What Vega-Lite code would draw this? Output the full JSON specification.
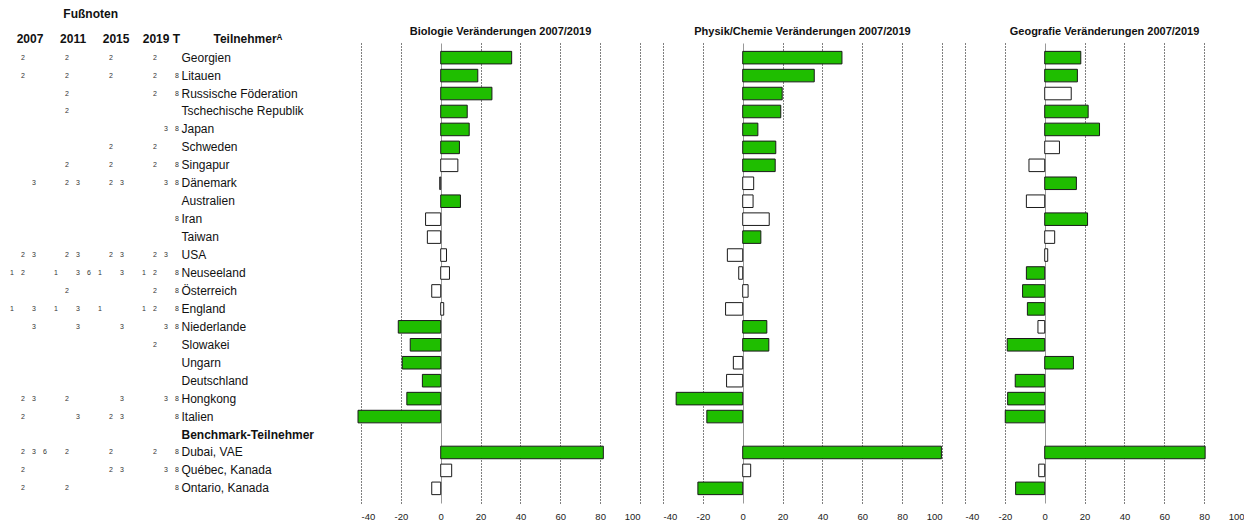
{
  "$schema": "https://vega.github.io/schema/vega-lite/v6.json",
  "background": "white",
  "padding": {"left": 0, "top": 8, "right": 0, "bottom": 0},
  "spacing": 23,
  "bounds": "flush",
  "config": {"view": {"stroke": null}, "font": "Liberation Sans"},
  "datasets": {
    "bars": [
      {"c": "Georgien", "f": "Bio", "v": 35.6, "s": "sig"},
      {"c": "Litauen", "f": "Bio", "v": 18.6, "s": "sig"},
      {"c": "Russische Föderation", "f": "Bio", "v": 25.7, "s": "sig"},
      {"c": "Tschechische Republik", "f": "Bio", "v": 13.3, "s": "sig"},
      {"c": "Japan", "f": "Bio", "v": 14.3, "s": "sig"},
      {"c": "Schweden", "f": "Bio", "v": 9.4, "s": "sig"},
      {"c": "Singapur", "f": "Bio", "v": 8.6, "s": "ns"},
      {"c": "Dänemark", "f": "Bio", "v": -0.5, "s": "ns"},
      {"c": "Australien", "f": "Bio", "v": 9.9, "s": "sig"},
      {"c": "Iran", "f": "Bio", "v": -7.6, "s": "ns"},
      {"c": "Taiwan", "f": "Bio", "v": -6.7, "s": "ns"},
      {"c": "USA", "f": "Bio", "v": 2.9, "s": "ns"},
      {"c": "Neuseeland", "f": "Bio", "v": 4.4, "s": "ns"},
      {"c": "Österreich", "f": "Bio", "v": -4.5, "s": "ns"},
      {"c": "England", "f": "Bio", "v": 1.5, "s": "ns"},
      {"c": "Niederlande", "f": "Bio", "v": -21.3, "s": "sig"},
      {"c": "Slowakei", "f": "Bio", "v": -15.3, "s": "sig"},
      {"c": "Ungarn", "f": "Bio", "v": -19.3, "s": "sig"},
      {"c": "Deutschland", "f": "Bio", "v": -9.2, "s": "sig"},
      {"c": "Hongkong", "f": "Bio", "v": -17.0, "s": "sig"},
      {"c": "Italien", "f": "Bio", "v": -41.5, "s": "sig"},
      {"c": "Dubai, VAE", "f": "Bio", "v": 81.6, "s": "sig"},
      {"c": "Québec, Kanada", "f": "Bio", "v": 5.5, "s": "ns"},
      {"c": "Ontario, Kanada", "f": "Bio", "v": -4.5, "s": "ns"},
      {"c": "Georgien", "f": "Phys", "v": 49.8, "s": "sig"},
      {"c": "Litauen", "f": "Phys", "v": 35.9, "s": "sig"},
      {"c": "Russische Föderation", "f": "Phys", "v": 19.8, "s": "sig"},
      {"c": "Tschechische Republik", "f": "Phys", "v": 19.1, "s": "sig"},
      {"c": "Japan", "f": "Phys", "v": 7.6, "s": "sig"},
      {"c": "Schweden", "f": "Phys", "v": 16.6, "s": "sig"},
      {"c": "Singapur", "f": "Phys", "v": 16.3, "s": "sig"},
      {"c": "Dänemark", "f": "Phys", "v": 5.5, "s": "ns"},
      {"c": "Australien", "f": "Phys", "v": 5.2, "s": "ns"},
      {"c": "Iran", "f": "Phys", "v": 13.3, "s": "ns"},
      {"c": "Taiwan", "f": "Phys", "v": 9.1, "s": "sig"},
      {"c": "USA", "f": "Phys", "v": -7.7, "s": "ns"},
      {"c": "Neuseeland", "f": "Phys", "v": -2.0, "s": "ns"},
      {"c": "Österreich", "f": "Phys", "v": 2.7, "s": "ns"},
      {"c": "England", "f": "Phys", "v": -8.6, "s": "ns"},
      {"c": "Niederlande", "f": "Phys", "v": 12.1, "s": "sig"},
      {"c": "Slowakei", "f": "Phys", "v": 13.1, "s": "sig"},
      {"c": "Ungarn", "f": "Phys", "v": -4.7, "s": "ns"},
      {"c": "Deutschland", "f": "Phys", "v": -8.1, "s": "ns"},
      {"c": "Hongkong", "f": "Phys", "v": -33.4, "s": "sig"},
      {"c": "Italien", "f": "Phys", "v": -18.0, "s": "sig"},
      {"c": "Dubai, VAE", "f": "Phys", "v": 99.7, "s": "sig"},
      {"c": "Québec, Kanada", "f": "Phys", "v": 4.0, "s": "ns"},
      {"c": "Ontario, Kanada", "f": "Phys", "v": -22.5, "s": "sig"},
      {"c": "Georgien", "f": "Geo", "v": 18.1, "s": "sig"},
      {"c": "Litauen", "f": "Geo", "v": 16.4, "s": "sig"},
      {"c": "Russische Föderation", "f": "Geo", "v": 13.3, "s": "ns"},
      {"c": "Tschechische Republik", "f": "Geo", "v": 21.8, "s": "sig"},
      {"c": "Japan", "f": "Geo", "v": 27.5, "s": "sig"},
      {"c": "Schweden", "f": "Geo", "v": 7.4, "s": "ns"},
      {"c": "Singapur", "f": "Geo", "v": -7.9, "s": "ns"},
      {"c": "Dänemark", "f": "Geo", "v": 15.9, "s": "sig"},
      {"c": "Australien", "f": "Geo", "v": -9.2, "s": "ns"},
      {"c": "Iran", "f": "Geo", "v": 21.5, "s": "sig"},
      {"c": "Taiwan", "f": "Geo", "v": 5.0, "s": "ns"},
      {"c": "USA", "f": "Geo", "v": 1.5, "s": "ns"},
      {"c": "Neuseeland", "f": "Geo", "v": -9.2, "s": "sig"},
      {"c": "Österreich", "f": "Geo", "v": -11.1, "s": "sig"},
      {"c": "England", "f": "Geo", "v": -8.7, "s": "sig"},
      {"c": "Niederlande", "f": "Geo", "v": -3.4, "s": "ns"},
      {"c": "Slowakei", "f": "Geo", "v": -18.8, "s": "sig"},
      {"c": "Ungarn", "f": "Geo", "v": 14.4, "s": "sig"},
      {"c": "Deutschland", "f": "Geo", "v": -14.8, "s": "sig"},
      {"c": "Hongkong", "f": "Geo", "v": -18.6, "s": "sig"},
      {"c": "Italien", "f": "Geo", "v": -19.8, "s": "sig"},
      {"c": "Dubai, VAE", "f": "Geo", "v": 80.5, "s": "sig"},
      {"c": "Québec, Kanada", "f": "Geo", "v": -3.0, "s": "ns"},
      {"c": "Ontario, Kanada", "f": "Geo", "v": -14.6, "s": "sig"}
    ],
    "notes": [
      {"c": "Georgien", "slot": "2007-2", "n": "2"},
      {"c": "Georgien", "slot": "2011-2", "n": "2"},
      {"c": "Georgien", "slot": "2015-2", "n": "2"},
      {"c": "Georgien", "slot": "2019-2", "n": "2"},
      {"c": "Litauen", "slot": "2007-2", "n": "2"},
      {"c": "Litauen", "slot": "2011-2", "n": "2"},
      {"c": "Litauen", "slot": "2015-2", "n": "2"},
      {"c": "Litauen", "slot": "2019-2", "n": "2"},
      {"c": "Litauen", "slot": "T", "n": "8"},
      {"c": "Russische Föderation", "slot": "2011-2", "n": "2"},
      {"c": "Russische Föderation", "slot": "2019-2", "n": "2"},
      {"c": "Russische Föderation", "slot": "T", "n": "8"},
      {"c": "Tschechische Republik", "slot": "2011-2", "n": "2"},
      {"c": "Japan", "slot": "2019-3", "n": "3"},
      {"c": "Japan", "slot": "T", "n": "8"},
      {"c": "Schweden", "slot": "2015-2", "n": "2"},
      {"c": "Schweden", "slot": "2019-2", "n": "2"},
      {"c": "Singapur", "slot": "2011-2", "n": "2"},
      {"c": "Singapur", "slot": "2015-2", "n": "2"},
      {"c": "Singapur", "slot": "2019-2", "n": "2"},
      {"c": "Singapur", "slot": "T", "n": "8"},
      {"c": "Dänemark", "slot": "2007-3", "n": "3"},
      {"c": "Dänemark", "slot": "2011-2", "n": "2"},
      {"c": "Dänemark", "slot": "2011-3", "n": "3"},
      {"c": "Dänemark", "slot": "2015-2", "n": "2"},
      {"c": "Dänemark", "slot": "2015-3", "n": "3"},
      {"c": "Dänemark", "slot": "2019-3", "n": "3"},
      {"c": "Dänemark", "slot": "T", "n": "8"},
      {"c": "Iran", "slot": "T", "n": "8"},
      {"c": "USA", "slot": "2007-2", "n": "2"},
      {"c": "USA", "slot": "2007-3", "n": "3"},
      {"c": "USA", "slot": "2011-2", "n": "2"},
      {"c": "USA", "slot": "2011-3", "n": "3"},
      {"c": "USA", "slot": "2015-2", "n": "2"},
      {"c": "USA", "slot": "2015-3", "n": "3"},
      {"c": "USA", "slot": "2019-2", "n": "2"},
      {"c": "USA", "slot": "2019-3", "n": "3"},
      {"c": "Neuseeland", "slot": "2007-1", "n": "1"},
      {"c": "Neuseeland", "slot": "2007-2", "n": "2"},
      {"c": "Neuseeland", "slot": "2011-1", "n": "1"},
      {"c": "Neuseeland", "slot": "2011-3", "n": "3"},
      {"c": "Neuseeland", "slot": "2011-6", "n": "6"},
      {"c": "Neuseeland", "slot": "2015-1", "n": "1"},
      {"c": "Neuseeland", "slot": "2015-3", "n": "3"},
      {"c": "Neuseeland", "slot": "2019-1", "n": "1"},
      {"c": "Neuseeland", "slot": "2019-2", "n": "2"},
      {"c": "Neuseeland", "slot": "T", "n": "8"},
      {"c": "Österreich", "slot": "2011-2", "n": "2"},
      {"c": "Österreich", "slot": "2019-2", "n": "2"},
      {"c": "Österreich", "slot": "T", "n": "8"},
      {"c": "England", "slot": "2007-1", "n": "1"},
      {"c": "England", "slot": "2007-3", "n": "3"},
      {"c": "England", "slot": "2011-1", "n": "1"},
      {"c": "England", "slot": "2011-3", "n": "3"},
      {"c": "England", "slot": "2015-1", "n": "1"},
      {"c": "England", "slot": "2019-1", "n": "1"},
      {"c": "England", "slot": "2019-2", "n": "2"},
      {"c": "England", "slot": "T", "n": "8"},
      {"c": "Niederlande", "slot": "2007-3", "n": "3"},
      {"c": "Niederlande", "slot": "2011-3", "n": "3"},
      {"c": "Niederlande", "slot": "2015-3", "n": "3"},
      {"c": "Niederlande", "slot": "2019-3", "n": "3"},
      {"c": "Niederlande", "slot": "T", "n": "8"},
      {"c": "Slowakei", "slot": "2019-2", "n": "2"},
      {"c": "Hongkong", "slot": "2007-2", "n": "2"},
      {"c": "Hongkong", "slot": "2007-3", "n": "3"},
      {"c": "Hongkong", "slot": "2011-2", "n": "2"},
      {"c": "Hongkong", "slot": "2015-3", "n": "3"},
      {"c": "Hongkong", "slot": "2019-3", "n": "3"},
      {"c": "Hongkong", "slot": "T", "n": "8"},
      {"c": "Italien", "slot": "2007-2", "n": "2"},
      {"c": "Italien", "slot": "2011-3", "n": "3"},
      {"c": "Italien", "slot": "2015-2", "n": "2"},
      {"c": "Italien", "slot": "2015-3", "n": "3"},
      {"c": "Italien", "slot": "T", "n": "8"},
      {"c": "Dubai, VAE", "slot": "2007-2", "n": "2"},
      {"c": "Dubai, VAE", "slot": "2007-3", "n": "3"},
      {"c": "Dubai, VAE", "slot": "2007-6", "n": "6"},
      {"c": "Dubai, VAE", "slot": "2011-2", "n": "2"},
      {"c": "Dubai, VAE", "slot": "2015-2", "n": "2"},
      {"c": "Dubai, VAE", "slot": "2019-2", "n": "2"},
      {"c": "Dubai, VAE", "slot": "T", "n": "8"},
      {"c": "Québec, Kanada", "slot": "2007-2", "n": "2"},
      {"c": "Québec, Kanada", "slot": "2015-2", "n": "2"},
      {"c": "Québec, Kanada", "slot": "2015-3", "n": "3"},
      {"c": "Québec, Kanada", "slot": "2019-3", "n": "3"},
      {"c": "Québec, Kanada", "slot": "T", "n": "8"},
      {"c": "Ontario, Kanada", "slot": "2007-2", "n": "2"},
      {"c": "Ontario, Kanada", "slot": "2011-2", "n": "2"},
      {"c": "Ontario, Kanada", "slot": "T", "n": "8"}
    ]
  },
  "hconcat": [
    {
      "width": 338,
      "height": 460,
      "title": {
        "text": "\u200b\u00a0\u00a0\u00a0\u00a0\u00a0\u00a0\u00a0\u00a0\u00a0\u00a0\u00a0\u00a0\u00a0\u00a0\u00a0\u00a0\u00a0\u00a0\u00a0Fußnoten",
        "subtitle": "\u200b\u00a0\u00a0\u00a0\u00a0\u00a02007\u00a0\u00a0\u00a0\u00a0\u00a02011\u00a0\u00a0\u00a0\u00a0\u00a02015\u00a0\u00a0\u00a0\u00a02019\u00a0T\u00a0\u00a0\u00a0\u00a0\u00a0\u00a0\u00a0\u00a0\u00a0\u00a0Teilnehmerᴬ",
        "anchor": "start",
        "font": "Liberation Sans",
        "fontSize": 12,
        "fontWeight": "bold",
        "color": "#111",
        "subtitleFont": "Liberation Sans",
        "subtitleFontSize": 12,
        "subtitleFontWeight": "bold",
        "subtitleColor": "#111",
        "subtitlePadding": 13,
        "offset": -3
      },
      "data": {"name": "notes"},
      "mark": {"type": "text", "fontSize": 7, "font": "Liberation Sans", "color": "#333"},
      "encoding": {
        "x": {
          "field": "slot", "type": "nominal",
          "scale": {"type": "point", "domain": ["2007-1","2007-2","2007-3","2007-6","2011-1","2011-2","2011-3","2011-6","2015-1","2015-2","2015-3","2015-6","2019-1","2019-2","2019-3","T"], "range": [12, 177], "padding": 0},
          "axis": null
        },
        "y": {
          "field": "c", "type": "nominal",
          "scale": {"type": "band", "domain": ["Georgien","Litauen","Russische Föderation","Tschechische Republik","Japan","Schweden","Singapur","Dänemark","Australien","Iran","Taiwan","USA","Neuseeland","Österreich","England","Niederlande","Slowakei","Ungarn","Deutschland","Hongkong","Italien","Benchmark-Teilnehmer","Dubai, VAE","Québec, Kanada","Ontario, Kanada"], "paddingInner": 0.3, "paddingOuter": 0.466},
          "axis": {
            "orient": "right", "offset": -158, "title": null, "domain": false, "ticks": false,
            "labelPadding": 1, "labelFontSize": 12, "labelFont": "Liberation Sans", "labelColor": "#111",
            "labelAlign": "left",
            "labelFontWeight": {"condition": {"test": "datum.value === 'Benchmark-Teilnehmer'", "value": "bold"}, "value": "normal"}
          }
        },
        "text": {"field": "n"}
      }
    },
    {
      "width": 279,
      "height": 460,
      "title": {"text": "Biologie Veränderungen 2007/2019", "font": "Liberation Sans", "fontSize": 11, "fontWeight": "bold", "color": "#111", "anchor": "middle", "offset": 6},
      "data": {"name": "bars"},
      "transform": [{"filter": "datum.f === 'Bio'"}],
      "mark": {"type": "bar", "stroke": "#1a1a1a", "strokeWidth": 1},
      "encoding": {
        "y": {
          "field": "c", "type": "nominal",
          "scale": {"type": "band", "domain": ["Georgien","Litauen","Russische Föderation","Tschechische Republik","Japan","Schweden","Singapur","Dänemark","Australien","Iran","Taiwan","USA","Neuseeland","Österreich","England","Niederlande","Slowakei","Ungarn","Deutschland","Hongkong","Italien","Benchmark-Teilnehmer","Dubai, VAE","Québec, Kanada","Ontario, Kanada"], "paddingInner": 0.3, "paddingOuter": 0.466},
          "axis": null
        },
        "x": {
          "field": "v", "type": "quantitative",
          "scale": {"domain": [-40, 100], "nice": false, "zero": false},
          "axis": {"values": [-40,-20,0,20,40,60,80,100], "title": null, "domain": false, "ticks": false, "labelPadding": 8, "labelFontSize": 9.5, "labelFont": "Liberation Sans", "labelColor": "#222", "labelExpr": "'' + datum.value", "grid": true, "gridColor": {"condition": {"test": "datum.value === 0", "value": "#999"}, "value": "#000"}, "gridDash": {"condition": {"test": "datum.value === 0", "value": []}, "value": [1, 2]}, "gridWidth": 1, "gridOpacity": 1}
        },
        "fill": {"field": "s", "type": "nominal", "scale": {"domain": ["sig", "ns"], "range": ["#1fbe00", "#ffffff"]}, "legend": null}
      }
    },
    {
      "width": 279,
      "height": 460,
      "title": {"text": "Physik/Chemie Veränderungen 2007/2019", "font": "Liberation Sans", "fontSize": 11, "fontWeight": "bold", "color": "#111", "anchor": "middle", "offset": 6},
      "data": {"name": "bars"},
      "transform": [{"filter": "datum.f === 'Phys'"}],
      "mark": {"type": "bar", "stroke": "#1a1a1a", "strokeWidth": 1},
      "encoding": {
        "y": {
          "field": "c", "type": "nominal",
          "scale": {"type": "band", "domain": ["Georgien","Litauen","Russische Föderation","Tschechische Republik","Japan","Schweden","Singapur","Dänemark","Australien","Iran","Taiwan","USA","Neuseeland","Österreich","England","Niederlande","Slowakei","Ungarn","Deutschland","Hongkong","Italien","Benchmark-Teilnehmer","Dubai, VAE","Québec, Kanada","Ontario, Kanada"], "paddingInner": 0.3, "paddingOuter": 0.466},
          "axis": null
        },
        "x": {
          "field": "v", "type": "quantitative",
          "scale": {"domain": [-40, 100], "nice": false, "zero": false},
          "axis": {"values": [-40,-20,0,20,40,60,80,100], "title": null, "domain": false, "ticks": false, "labelPadding": 8, "labelFontSize": 9.5, "labelFont": "Liberation Sans", "labelColor": "#222", "labelExpr": "'' + datum.value", "grid": true, "gridColor": {"condition": {"test": "datum.value === 0", "value": "#999"}, "value": "#000"}, "gridDash": {"condition": {"test": "datum.value === 0", "value": []}, "value": [1, 2]}, "gridWidth": 1, "gridOpacity": 1}
        },
        "fill": {"field": "s", "type": "nominal", "scale": {"domain": ["sig", "ns"], "range": ["#1fbe00", "#ffffff"]}, "legend": null}
      }
    },
    {
      "width": 279,
      "height": 460,
      "title": {"text": "Geografie Veränderungen 2007/2019", "font": "Liberation Sans", "fontSize": 11, "fontWeight": "bold", "color": "#111", "anchor": "middle", "offset": 6},
      "data": {"name": "bars"},
      "transform": [{"filter": "datum.f === 'Geo'"}],
      "mark": {"type": "bar", "stroke": "#1a1a1a", "strokeWidth": 1},
      "encoding": {
        "y": {
          "field": "c", "type": "nominal",
          "scale": {"type": "band", "domain": ["Georgien","Litauen","Russische Föderation","Tschechische Republik","Japan","Schweden","Singapur","Dänemark","Australien","Iran","Taiwan","USA","Neuseeland","Österreich","England","Niederlande","Slowakei","Ungarn","Deutschland","Hongkong","Italien","Benchmark-Teilnehmer","Dubai, VAE","Québec, Kanada","Ontario, Kanada"], "paddingInner": 0.3, "paddingOuter": 0.466},
          "axis": null
        },
        "x": {
          "field": "v", "type": "quantitative",
          "scale": {"domain": [-40, 100], "nice": false, "zero": false},
          "axis": {"values": [-40,-20,0,20,40,60,80,100], "title": null, "domain": false, "ticks": false, "labelPadding": 8, "labelFontSize": 9.5, "labelFont": "Liberation Sans", "labelColor": "#222", "labelExpr": "'' + datum.value", "grid": true, "gridColor": {"condition": {"test": "datum.value === 0", "value": "#999"}, "value": "#000"}, "gridDash": {"condition": {"test": "datum.value === 0", "value": []}, "value": [1, 2]}, "gridWidth": 1, "gridOpacity": 1}
        },
        "fill": {"field": "s", "type": "nominal", "scale": {"domain": ["sig", "ns"], "range": ["#1fbe00", "#ffffff"]}, "legend": null}
      }
    }
  ]
}
